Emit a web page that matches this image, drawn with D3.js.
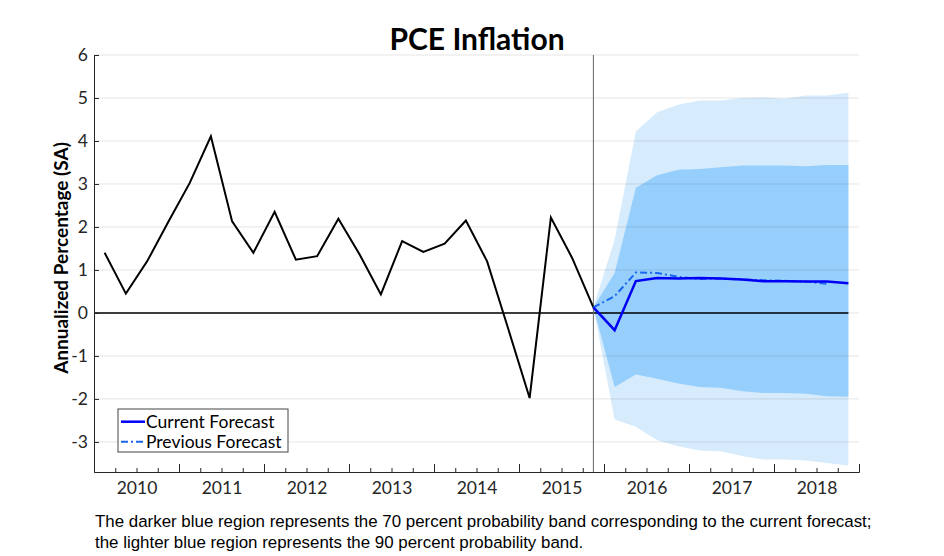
<!DOCTYPE html>
<html>
<head>
<meta charset="utf-8">
<script src="https://cdn.jsdelivr.net/npm/d3@7"></script>
<style>
  body { margin: 0; background: #fff; }
  svg { display: block; }
</style>
</head>
<body>
<div id="chart"></div>
<script>
// ---- datos ----
const histQuarters = [
  "2010Q1", "2010Q2", "2010Q3", "2010Q4",
  "2011Q1", "2011Q2", "2011Q3", "2011Q4",
  "2012Q1", "2012Q2", "2012Q3", "2012Q4",
  "2013Q1", "2013Q2", "2013Q3", "2013Q4",
  "2014Q1", "2014Q2", "2014Q3", "2014Q4",
  "2015Q1", "2015Q2", "2015Q3", "2015Q4"
];
const histValues = [
  1.40, 0.45, 1.20, 2.12,
  3.02, 4.11, 2.13, 1.40,
  2.35, 1.24, 1.32, 2.19,
  1.36, 0.43, 1.67, 1.42,
  1.61, 2.15, 1.20, -0.38,
  -1.98, 2.22, 1.28, 0.13
];

const fcQuarters = [
  "2015Q4", "2016Q1", "2016Q2", "2016Q3", "2016Q4",
  "2017Q1", "2017Q2", "2017Q3", "2017Q4",
  "2018Q1", "2018Q2", "2018Q3", "2018Q4"
];
const currentForecast  = [0.13, -0.40, 0.74, 0.81, 0.80, 0.81, 0.80, 0.78, 0.74, 0.74, 0.73, 0.73, 0.69];
const previousForecast = [0.13, 0.39, 0.94, 0.93, 0.84, 0.79, 0.80, 0.78, 0.76, 0.75, 0.73, 0.68];
const band70Upper = [0.13, 0.93, 2.91, 3.20, 3.33, 3.35, 3.39, 3.43, 3.43, 3.43, 3.41, 3.44, 3.44];
const band70Lower = [0.13, -1.72, -1.43, -1.53, -1.64, -1.72, -1.74, -1.82, -1.86, -1.86, -1.88, -1.94, -1.95];
const band90Upper = [0.13, 1.70, 4.22, 4.67, 4.84, 4.94, 4.94, 5.00, 5.01, 4.98, 5.06, 5.06, 5.12];
const band90Lower = [0.13, -2.48, -2.65, -2.96, -3.10, -3.20, -3.22, -3.33, -3.41, -3.41, -3.43, -3.49, -3.55];

const yearLabels = [2010, 2011, 2012, 2013, 2014, 2015, 2016, 2017, 2018];
const yTicks = [-3, -2, -1, 0, 1, 2, 3, 4, 5, 6];

const captionLines = [
  "The darker blue region represents the 70 percent probability band corresponding to the current forecast;",
  "the lighter blue region represents the 90 percent probability band."
];

// ---- constantes ----
const SVG_WIDTH = 944;
const SVG_HEIGHT = 556;
const MARGIN = { top: 55, bottom: 84, left: 94, right: 85 };
const HEIGHTVIS = SVG_HEIGHT - MARGIN.top - MARGIN.bottom;
const WIDTHVIS = SVG_WIDTH - MARGIN.left - MARGIN.right;

const AXIS_COLOR = "#262626";
const FONT = "Lato, 'Open Sans', sans-serif";

// "2015Q4" -> 2015.875 (mitad del trimestre)
function quarterToYear(q) {
  const year = +q.slice(0, 4);
  const quarter = +q.slice(5);
  return year + (quarter - 0.5) / 4;
}

const SVG = d3.select("#chart").append("svg")
  .attr("width", SVG_WIDTH)
  .attr("height", SVG_HEIGHT);

const x = d3.scaleLinear()
  .domain([2010, 2019])
  .range([MARGIN.left, MARGIN.left + WIDTHVIS]);

const y = d3.scaleLinear()
  .domain([-3.7, 6])
  .range([MARGIN.top + HEIGHTVIS, MARGIN.top]);

// ---- bandas de probabilidad ----
const bandData = fcQuarters.map((q, i) => ({
  t: quarterToYear(q),
  lo90: band90Lower[i], hi90: band90Upper[i],
  lo70: band70Lower[i], hi70: band70Upper[i]
}));

SVG.append("path")
  .datum(bandData)
  .attr("fill", "#d6ebfc")
  .attr("d", d3.area().x(d => x(d.t)).y0(d => y(d.lo90)).y1(d => y(d.hi90)));

SVG.append("path")
  .datum(bandData)
  .attr("fill", "#96cffc")
  .attr("d", d3.area().x(d => x(d.t)).y0(d => y(d.lo70)).y1(d => y(d.hi70)));

// ---- grilla ----
SVG.append("g")
  .selectAll("line")
  .data(yTicks)
  .join("line")
  .attr("x1", x.range()[0])
  .attr("x2", x.range()[1])
  .attr("y1", d => y(d))
  .attr("y2", d => y(d))
  .attr("stroke", "#000")
  .attr("stroke-opacity", 0.1)
  .attr("stroke-width", 1);

// linea de cero
SVG.append("line")
  .attr("x1", x(2010))
  .attr("x2", x(quarterToYear("2018Q4")))
  .attr("y1", y(0))
  .attr("y2", y(0))
  .attr("stroke", "#000")
  .attr("stroke-width", 1.5);

// linea vertical al ultimo dato
SVG.append("line")
  .attr("x1", x(quarterToYear("2015Q4")))
  .attr("x2", x(quarterToYear("2015Q4")))
  .attr("y1", y.range()[0])
  .attr("y2", y.range()[1])
  .attr("stroke", "#666")
  .attr("stroke-width", 1);

// ---- series ----
const line = d3.line().x(d => x(d[0])).y(d => y(d[1]));

SVG.append("path")
  .datum(histQuarters.map((q, i) => [quarterToYear(q), histValues[i]]))
  .attr("fill", "none")
  .attr("stroke", "#000")
  .attr("stroke-width", 2)
  .attr("stroke-linejoin", "miter")
  .attr("d", line);

SVG.append("path")
  .datum(previousForecast.map((v, i) => [quarterToYear(fcQuarters[i]), v]))
  .attr("fill", "none")
  .attr("stroke", "#1a66f0")
  .attr("stroke-width", 2)
  .attr("stroke-dasharray", "7,3,2,3")
  .attr("d", line);

SVG.append("path")
  .datum(currentForecast.map((v, i) => [quarterToYear(fcQuarters[i]), v]))
  .attr("fill", "none")
  .attr("stroke", "#0000f5")
  .attr("stroke-width", 2.5)
  .attr("d", line);

// ---- ejes ----
const ejeY = d3.axisLeft(y)
  .tickValues(yTicks)
  .tickFormat(d => String(d))
  .tickSizeInner(-5)
  .tickSizeOuter(0)
  .tickPadding(6);

const gY = SVG.append("g")
  .attr("transform", `translate(${MARGIN.left}, 0)`)
  .call(ejeY);

const majorTicks = d3.range(2010, 2020);
const minorTicks = d3.range(2010, 2019.01, 0.25).filter(d => d % 1 !== 0);

const gXMinor = SVG.append("g")
  .attr("transform", `translate(0, ${MARGIN.top + HEIGHTVIS})`)
  .call(d3.axisBottom(x).tickValues(minorTicks).tickFormat("").tickSizeInner(-4).tickSizeOuter(0));

const gXMajor = SVG.append("g")
  .attr("transform", `translate(0, ${MARGIN.top + HEIGHTVIS})`)
  .call(d3.axisBottom(x).tickValues(majorTicks).tickFormat("").tickSizeInner(-8).tickSizeOuter(0));

const gXLabels = SVG.append("g")
  .attr("transform", `translate(0, ${MARGIN.top + HEIGHTVIS})`)
  .call(d3.axisBottom(x).tickValues(yearLabels.map(d => d + 0.5)).tickFormat(d => Math.floor(d)).tickSize(0).tickPadding(10));
gXLabels.select(".domain").remove();

[gY, gXMinor, gXMajor, gXLabels].forEach(g => {
  g.selectAll("path, line").attr("stroke", AXIS_COLOR);
  g.selectAll("text")
    .attr("fill", AXIS_COLOR)
    .style("font-family", FONT)
    .style("font-size", "17.5px");
});

// ---- leyenda ----
const legend = SVG.append("g").attr("transform", "translate(118, 409)");
legend.append("rect")
  .attr("width", 170)
  .attr("height", 43)
  .attr("fill", "#fff")
  .attr("stroke", "#444")
  .attr("stroke-width", 1);

const legendItems = [
  { label: "Current Forecast", color: "#0000f5", dash: null, width: 2.5 },
  { label: "Previous Forecast", color: "#1a66f0", dash: "7,3,2,3", width: 2 }
];
legendItems.forEach((item, i) => {
  const yy = 12.7 + i * 20;
  legend.append("line")
    .attr("x1", 3).attr("x2", 27)
    .attr("y1", yy).attr("y2", yy)
    .attr("stroke", item.color)
    .attr("stroke-width", item.width)
    .attr("stroke-dasharray", item.dash);
  legend.append("text")
    .attr("x", 28)
    .attr("y", yy + 6)
    .attr("fill", "#000")
    .style("font-family", FONT)
    .style("font-size", "17.5px")
    .text(item.label);
});

// ---- titulos ----
SVG.append("text")
  .attr("x", 477)
  .attr("y", 50)
  .attr("text-anchor", "middle")
  .attr("fill", "#000")
  .style("font-family", FONT)
  .style("font-weight", "bold")
  .style("font-size", "30px")
  .text("PCE Inflation");

SVG.append("text")
  .attr("transform", "translate(68, 258) rotate(-90)")
  .attr("text-anchor", "middle")
  .attr("fill", "#000")
  .style("font-family", FONT)
  .style("font-weight", "bold")
  .style("font-size", "19px")
  .text("Annualized Percentage (SA)");

// ---- nota al pie ----
const caption = SVG.append("g");
const capTexts = caption.selectAll("text")
  .data(captionLines)
  .join("text")
  .attr("x", 95)
  .attr("y", (d, i) => 527 + i * 21)
  .attr("fill", "#000")
  .style("font-family", "'Liberation Sans Narrow', 'Arial Narrow', 'Liberation Sans', sans-serif")
  .style("font-size", "16px")
  .text(d => d);

// ajustar tamano para que la primera linea mida lo mismo que en el original
const firstLen = capTexts.node().getComputedTextLength();
if (firstLen > 0) {
  const size = 16 * 777 / firstLen;
  capTexts.style("font-size", size.toFixed(2) + "px");
}
</script>
</body>
</html>
